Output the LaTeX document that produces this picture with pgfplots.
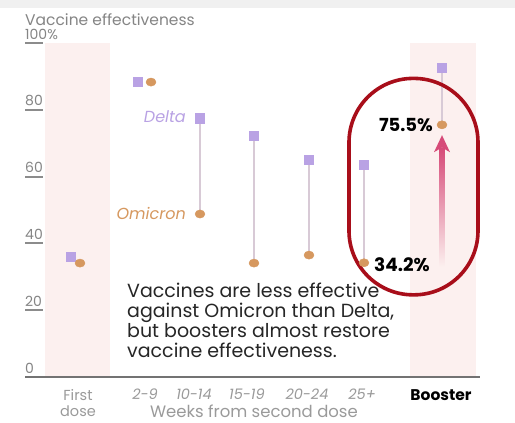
\documentclass[border=0pt]{standalone}
\usepackage{pgfplots}
\pgfplotsset{compat=1.18}
\usepackage{fontspec}
\setmainfont{Poppins}
\definecolor{delta}{HTML}{B9A2E4}
\definecolor{omi}{HTML}{D6985F}
\definecolor{stem}{HTML}{D8CAD6}
\definecolor{band}{HTML}{FCF0EF}
\definecolor{ring}{HTML}{A80E1A}
\definecolor{arrowc}{HTML}{D64A78}
\definecolor{txtgray}{HTML}{858585}
\definecolor{lblgray}{HTML}{9A9A9A}
\definecolor{ulgray}{HTML}{8C8C8C}
\begin{document}
\begin{tikzpicture}[x=1pt,y=1pt]
\useasboundingbox (-25,-46) rectangle (490,377);
\fill[white] (-25,-46) rectangle (490,377);
\fill[black!6] (-25,369) rectangle (490,377);
\begin{axis}[
  at={(0,0)}, anchor=south west,
  scale only axis, width=455pt, height=334pt,
  xmin=25, xmax=480, ymin=0, ymax=100,
  clip=false,
  axis line style={draw=none},
  /pgf/number format/assume math mode=true,
  ytick={0,20,40,60,80,100},
  yticklabels={0,20,40,60,80,100\%},
  ytick style={draw=none},
  yticklabel style={anchor=south west, inner sep=0pt, yshift=3.5pt, text=txtgray, font=\fontsize{14}{14}\selectfont},
  xtick={78,145,194,247,307,362,441},
  xticklabels={First\\dose, \textit{2-9}, \textit{10-14}, \textit{15-19}, \textit{20-24}, \textit{25+}, \textcolor{black}{\fontsize{15.5}{15.5}\selectfont\bfseries Booster}},
  xtick style={draw=none},
  xticklabel style={align=center, anchor=north, inner sep=0pt, yshift=-12pt, text=lblgray, font=\fontsize{14.5}{16}\selectfont},
]
% bands
\fill[band] (axis cs:45,0) rectangle (axis cs:110,100);
\fill[band] (axis cs:410,0) rectangle (axis cs:476,100);
\draw[black!55, line width=1.1pt] (axis cs:25,0) -- (axis cs:480,0);
% stems
\addplot[stem, line width=2.2pt] coordinates {(200,77.5) (200,48.8)};
\addplot[stem, line width=2.2pt] coordinates {(254,72.2) (254,34.1)};
\addplot[stem, line width=2.2pt] coordinates {(309,65.0) (309,36.5)};
\addplot[stem, line width=2.2pt] coordinates {(364,63.5) (364,34.2)};
\addplot[stem, line width=2.2pt] coordinates {(442,92.5) (442,75.5)};
% arrow
\shade[bottom color=band, top color=arrowc] (axis cs:439.5,33) rectangle (axis cs:444.5,68.5);
\fill[arrowc] (axis cs:442,72.4) -- (axis cs:434,67.3) -- (axis cs:442,68.7) -- (axis cs:450,67.3) -- cycle;
% Delta
\addplot[only marks, mark=square*, mark size=4.6pt, draw=delta, fill=delta] coordinates {
 (71,36.0) (138,88.3) (200,77.5) (254,72.2) (309,65.0) (364,63.5) (442,92.5)};
% Omicron
\addplot[only marks, mark=*, mark size=5pt, mark options={yscale=0.82}, draw=omi, fill=omi] coordinates {
 (80,34.1) (151,88.3) (200,48.8) (254,34.1) (309,36.5) (364,34.2) (442,75.5)};
% ring
\draw[ring, line width=3.6pt, rounded corners=64pt] (axis cs:349,89.4) rectangle (axis cs:478,24.6);
% labels
\node[anchor=east, inner sep=0pt, font=\fontsize{18}{18}\selectfont\bfseries] at (axis cs:433,75.5) {75.5\%};
\node[anchor=west, inner sep=0pt, font=\fontsize{18.5}{18.5}\selectfont\bfseries] at (axis cs:374,33.6) {34.2\%};
\node[anchor=east, inner sep=0pt, text=delta, font=\fontsize{16}{16}\selectfont\itshape] at (axis cs:186,77.8) {Delta};
\node[anchor=east, inner sep=0pt, text=omi, font=\fontsize{16}{16}\selectfont\itshape] at (axis cs:186,49.0) {Omicron};
\node[anchor=north west, inner sep=0pt, align=left, text=black!85, font=\fontsize{19}{20}\selectfont] at (axis cs:127,28.3)
 {Vaccines are less effective\\against Omicron than Delta,\\but boosters almost restore\\vaccine effectiveness.};
\node[anchor=west, inner sep=0pt, text=txtgray, font=\fontsize{15.5}{15.5}\selectfont] at (axis cs:25,107) {Vaccine effectiveness};
\node[anchor=north, inner sep=0pt, text=lblgray, font=\fontsize{16.5}{16.5}\selectfont] at (axis cs:254,0) [yshift=-28pt] {Weeks from second dose};
\end{axis}
% tick underlines (absolute, 1 unit = 3.34pt)
\foreach \v in {20,40,60,80,100} {\draw[ulgray, line width=2pt] (0,3.34*\v) -- (18,3.34*\v);}
\end{tikzpicture}
\end{document}
